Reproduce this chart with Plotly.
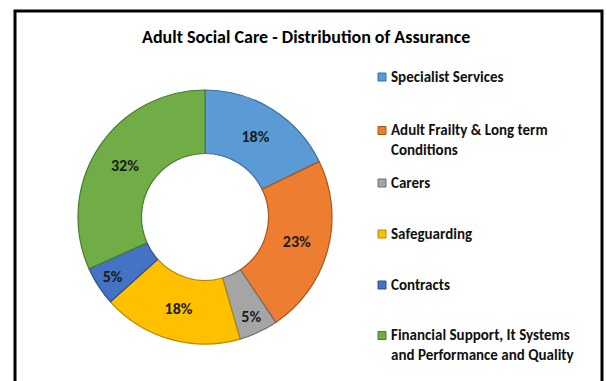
import plotly.graph_objects as go

W, H = 607, 381

# Assurance share by service area (percent)
categories = [
    "Specialist Services",
    "Adult Frailty & Long term<br>Conditions",
    "Carers",
    "Safeguarding",
    "Contracts",
    "Financial Support, It Systems<br>and Performance and Quality",
]
shares = [18, 23, 5, 18, 5, 32]

colors = ["#5B9BD5", "#ED7D31", "#A5A5A5", "#FFC000", "#4472C4", "#70AD47"]
edges = ["#3A6E9E", "#A9561D", "#6E6E6E", "#B38700", "#2C4F8C", "#4C7A2F"]

FONT = "Calibri, Carlito, Lato, sans-serif"


def px(x):
    return x / W


def py(y):
    return 1 - y / H


cx, cy, r = 205, 217, 127

fig = go.Figure()
fig.add_trace(go.Pie(
    labels=categories,
    values=shares,
    hole=0.5,
    sort=False,
    direction="clockwise",
    rotation=0,
    marker=dict(colors=colors, line=dict(color=edges, width=1.2)),
    texttemplate="%{value}%",
    textposition="inside",
    insidetextorientation="horizontal",
    textfont=dict(family=FONT, size=16, color="#1a1a1a", weight="bold"),
    showlegend=False,
    domain=dict(x=[px(cx - r), px(cx + r)], y=[py(cy + r), py(cy - r)]),
))

shapes = [
    # chart frame
    dict(type="rect", xref="paper", yref="paper",
         x0=px(15), x1=px(602), y0=py(11), y1=-0.1,
         line=dict(color="black", width=3), fillcolor="rgba(0,0,0,0)"),
]
annotations = [
    dict(text="<b>Adult Social Care - Distribution of Assurance</b>",
         x=px(306), y=py(37), xref="paper", yref="paper",
         showarrow=False, xanchor="center", yanchor="middle",
         font=dict(family=FONT, size=18, color="black")),
]

# legend built beside the donut
legend_y = [77, 140, 183, 234, 285, 345]
for label, col, edge, ly in zip(categories, colors, edges, legend_y):
    nlines = label.count("<br>") + 1
    top = ly - (nlines - 1) * 9.5
    shapes.append(dict(type="rect", xref="paper", yref="paper",
                       x0=px(378), x1=px(386), y0=py(top + 4), y1=py(top - 4),
                       fillcolor=col, line=dict(color=edge, width=1)))
    annotations.append(dict(text="<b>" + label + "</b>",
                            x=px(389), y=py(ly), xref="paper", yref="paper",
                            showarrow=False, xanchor="left", yanchor="middle",
                            align="left",
                            font=dict(family=FONT, size=15, color="#111111")))

fig.update_layout(
    width=W, height=H,
    margin=dict(l=0, r=0, t=0, b=0),
    paper_bgcolor="white",
    plot_bgcolor="white",
    shapes=shapes,
    annotations=annotations,
)

fig.write_html("out.html")
